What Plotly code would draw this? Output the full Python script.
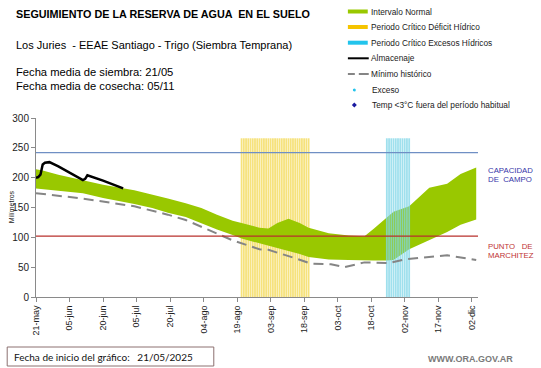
import plotly.graph_objects as go
import pandas as pd

# ---------------- data ----------------
START = "2025-05-21"
CAPACIDAD_CAMPO = 242
PUNTO_MARCHITEZ = 102
STRIPE_TOP = 266

band_days = [0, 3, 10, 21, 30, 44, 52, 59, 67, 74, 81, 88, 92, 100, 104, 108, 113, 118, 122,
             131, 140, 147, 151, 157, 160, 167, 176, 184, 190, 197]
band_upper = [214, 212, 205, 196, 188, 179, 172, 165, 157, 149, 138, 128, 124, 116, 115, 124, 131, 124, 116,
              107, 103, 102, 114, 134, 143, 152, 183, 190, 206, 217]
band_lower = [182, 181, 178, 174, 166, 156, 149, 141, 134, 123, 113, 104, 98, 90, 86, 83, 78, 72, 67,
              63, 62, 61, 61, 61, 62, 80, 95, 109, 121, 130]

alm_days = [0, 1, 2, 3, 4, 5, 6, 10, 15, 21, 22, 23, 30, 39]
alm_vals = [200, 201, 205, 222, 225, 226, 226, 219, 209, 196, 198, 204, 195, 182]

min_days = [0, 21, 44, 59, 67, 79, 88, 100, 104, 116, 123, 132, 138, 147, 158, 165, 177, 184, 197]
min_vals = [174, 165, 152, 138, 129, 109, 95, 80, 79, 65, 56, 55, 50, 58, 57, 63, 67, 70, 62]

deficit_start, deficit_days = "2025-08-21", 31
exceso_start, exceso_days = "2025-10-25", 11

tick_dates = pd.date_range(START, periods=14, freq="15D")
tick_labels = ["21-may", "05-jun", "20-jun", "05-jul", "20-jul", "04-ago", "19-ago",
               "03-sep", "18-sep", "03-oct", "18-oct", "02-nov", "17-nov", "02-dic"]

# ---------------- helpers ----------------
t0 = pd.Timestamp(START)
def d2t(days):
    return [t0 + pd.Timedelta(days=d) for d in days]

def stripes(start, n):
    xs, ys = [], []
    for d in pd.date_range(start, periods=n, freq="D"):
        xs += [d, d, None]
        ys += [0, STRIPE_TOP, None]
    return xs, ys

W, H = 541, 368
L, R, T, B = 33, 478, 118, 297
def px(x):
    return (x - L) / (R - L)
def py(y):
    return (B - y) / (B - T)

GREEN = "#99c800"
YELLOW = "#f6e27c"
CYAN = "#7fd6e8"

fig = go.Figure()

yx, yy = stripes(deficit_start, deficit_days)
fig.add_trace(go.Scatter(x=yx, y=yy, mode="lines", line=dict(color=YELLOW, width=1.8),
                         hoverinfo="skip", showlegend=False))

bx = d2t(band_days)
fig.add_trace(go.Scatter(x=bx, y=band_lower, mode="lines", line=dict(width=0, color=GREEN),
                         showlegend=False))
fig.add_trace(go.Scatter(x=bx, y=band_upper, mode="lines", line=dict(width=0, color=GREEN),
                         fill="tonexty", fillcolor=GREEN, showlegend=False))

cx, cy = stripes(exceso_start, exceso_days)
fig.add_trace(go.Scatter(x=cx, y=cy, mode="lines", line=dict(color=CYAN, width=1.8),
                         opacity=0.75, hoverinfo="skip", showlegend=False))

fig.add_trace(go.Scatter(x=d2t(min_days), y=min_vals, mode="lines",
                         line=dict(color="#858585", width=2, dash="10px,6px"), showlegend=False))
fig.add_trace(go.Scatter(x=d2t(alm_days), y=alm_vals, mode="lines",
                         line=dict(color="#000000", width=2.5), showlegend=False))

shapes = [
    dict(type="line", xref="paper", yref="y", x0=0, x1=1, y0=CAPACIDAD_CAMPO, y1=CAPACIDAD_CAMPO,
         line=dict(color="#6f8fc4", width=1.2)),
    dict(type="line", xref="paper", yref="y", x0=0, x1=1, y0=PUNTO_MARCHITEZ, y1=PUNTO_MARCHITEZ,
         line=dict(color="#b8302c", width=1.2)),
    # legend symbols
    dict(type="line", xref="paper", yref="paper", x0=px(347), x1=px(367), y0=py(11.5), y1=py(11.5),
         line=dict(color=GREEN, width=4)),
    dict(type="line", xref="paper", yref="paper", x0=px(347), x1=px(367), y0=py(27), y1=py(27),
         line=dict(color="#f5c400", width=4)),
    dict(type="line", xref="paper", yref="paper", x0=px(347), x1=px(367), y0=py(42.7), y1=py(42.7),
         line=dict(color="#22c4ec", width=4)),
    dict(type="line", xref="paper", yref="paper", x0=px(347), x1=px(368), y0=py(58.3), y1=py(58.3),
         line=dict(color="#000", width=2)),
    dict(type="line", xref="paper", yref="paper", x0=px(347), x1=px(354), y0=py(74), y1=py(74),
         line=dict(color="#858585", width=2)),
    dict(type="line", xref="paper", yref="paper", x0=px(358), x1=px(368), y0=py(74), y1=py(74),
         line=dict(color="#858585", width=2)),
    dict(type="circle", xref="paper", yref="paper", x0=px(352), x1=px(355), y0=py(88.5), y1=py(91.5),
         fillcolor="#22c4ec", line=dict(width=0)),
    dict(type="path", xref="paper", yref="paper",
         path=f"M {px(353.5)},{py(102.5)} L {px(356)},{py(105)} L {px(353.5)},{py(107.5)} L {px(351)},{py(105)} Z",
         fillcolor="#1a1aa0", line=dict(width=0)),
    # bottom box
    dict(type="rect", xref="paper", yref="paper", x0=px(4), x1=px(212), y0=py(347), y1=py(366),
         line=dict(color="#8c7070", width=1), fillcolor="rgba(0,0,0,0)"),
]

ann = []
def text(x, y, s, size, color="#000", xanchor="left", font="Liberation Sans", angle=0):
    ann.append(dict(x=px(x), y=py(y), xref="paper", yref="paper", text=s, showarrow=False,
                    xanchor=xanchor, yanchor="middle", textangle=angle,
                    font=dict(size=size, color=color, family=font)))

text(11, 14, "<b>SEGUIMIENTO DE LA RESERVA DE AGUA  EN EL SUELO</b>", 10.8)
text(11, 45, "Los Juries  - EEAE Santiago - Trigo (Siembra Temprana)", 11)
text(11, 72, "Fecha media de siembra: 21/05", 11.2)
text(11, 85.5, "Fecha media de cosecha: 05/11", 11.2)

leg = [(11.5, "Intervalo Normal"), (27, "Periodo Crítico Déficit Hídrico"),
       (42.7, "Periodo Crítico Excesos Hídricos"), (58.3, "Almacenaje"),
       (74, "Mínimo histórico"), (90, "Exceso"), (105, "Temp <3°C fuera del período habitual")]
for yv, s in leg:
    text(368 if yv < 80 else 369, yv, s, 8.3, "#1a1a1a")

text(486, 170, "CAPACIDAD", 7.8, "#3636a8")
text(486, 179.5, "DE  CAMPO", 7.8, "#3636a8")
text(486, 246.5, "PUNTO   DE", 7.8, "#c03434")
text(486, 255.5, "MARCHITEZ", 7.8, "#c03434")

text(8, 207, "Milímetros", 7, "#222", xanchor="center", angle=-90)

text(9, 356.5, "Fecha de inicio del gráfico:   21/05/2025", 10, "#111", font="Lato")
text(470, 359, "<b>WWW.ORA.GOV.AR</b>", 9, "#7a7a7a", xanchor="center")

fig.update_layout(
    width=W, height=H, autosize=False,
    margin=dict(l=L, r=W - R, t=T, b=H - B, pad=0),
    paper_bgcolor="white", plot_bgcolor="white",
    showlegend=False, shapes=shapes, annotations=ann,
    font=dict(family="Liberation Sans", color="#222"),
)
fig.update_xaxes(
    type="date", range=[t0, t0 + pd.Timedelta(days=197.8)],
    tickvals=list(tick_dates), ticktext=tick_labels, tickangle=-90,
    tickfont=dict(size=9, color="#222"), showline=True, linecolor="#8a8a8a", linewidth=1,
    ticks="outside", ticklen=4, tickcolor="#8a8a8a", showgrid=False, zeroline=False,
)
fig.update_yaxes(
    range=[0, 300], tickvals=[0, 50, 100, 150, 200, 250, 300],
    tickfont=dict(size=10, color="#222"), showline=True, linecolor="#8a8a8a", linewidth=1,
    ticks="outside", ticklen=4, tickcolor="#8a8a8a", showgrid=False, zeroline=False,
)

fig.write_html(
    "out.html",
    config={"displayModeBar": False},
    post_script="document.body.style.margin='0';document.body.style.padding='0';"
                "document.documentElement.style.overflow='hidden';",
)
